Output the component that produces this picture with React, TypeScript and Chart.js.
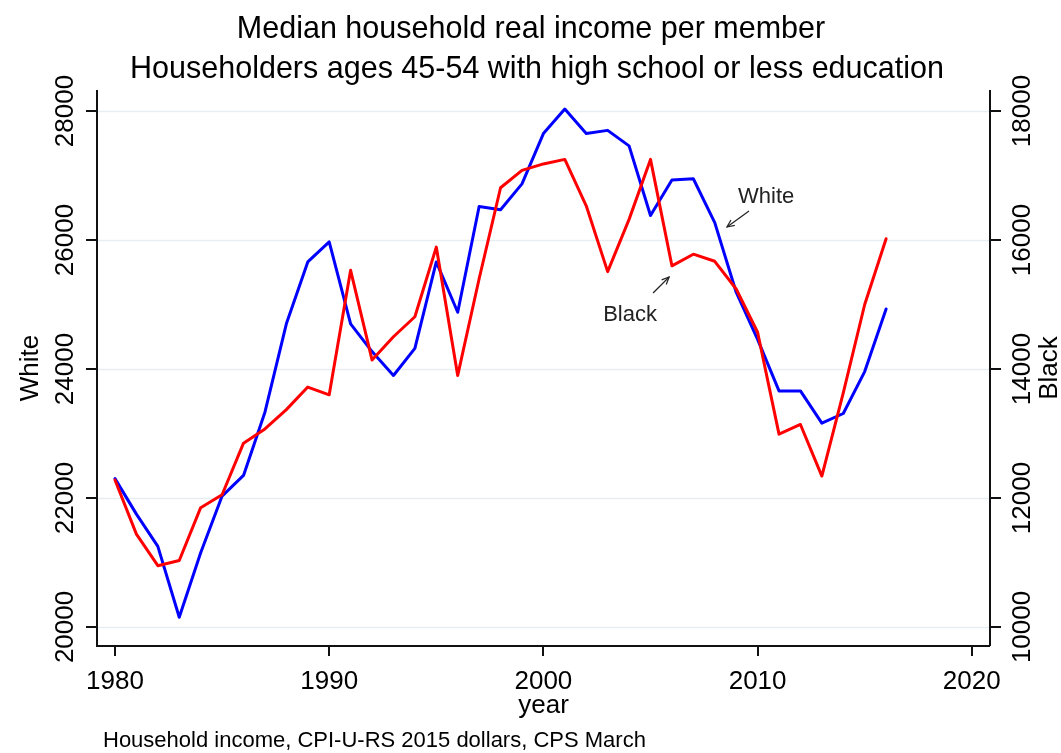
import React, { useEffect, useRef } from "react";
import { Chart, registerables } from "chart.js";

Chart.register(...registerables);

// ---------- data ----------
const years = [
  1980, 1981, 1982, 1983, 1984, 1985, 1986, 1987, 1988, 1989,
  1990, 1991, 1992, 1993, 1994, 1995, 1996, 1997, 1998, 1999,
  2000, 2001, 2002, 2003, 2004, 2005, 2006, 2007, 2008, 2009,
  2010, 2011, 2012, 2013, 2014, 2015, 2016,
];

const whiteIncome = [
  22300, 21750, 21250, 20150, 21150, 22030, 22350, 23330, 24700, 25660,
  25970, 24700, 24270, 23900, 24320, 25660, 24880, 26520, 26470, 26870,
  27650, 28030, 27650, 27700, 27460, 26380, 26930, 26950, 26270, 25190,
  24460, 23660, 23660, 23160, 23310, 23960, 24930,
];

const blackIncome = [
  12280, 11440, 10950, 11030, 11850, 12050, 12850, 13070, 13370, 13720,
  13600, 15530, 14140, 14500, 14810, 15890, 13900, 15400, 16810, 17080,
  17180, 17250, 16530, 15510, 16320, 17250, 15600, 15780, 15670, 15240,
  14570, 12990, 13140, 12340, 13630, 15000, 16020,
];

const xTicks = [1980, 1990, 2000, 2010, 2020];
const whiteTicks = [20000, 22000, 24000, 26000, 28000];
const blackTicks = [10000, 12000, 14000, 16000, 18000];

const titleLines = [
  "Median household real income per member",
  "Householders ages 45-54 with high school or less education",
];
const xTitle = "year";
const leftTitle = "White";
const rightTitle = "Black";
const footnote = "Household income, CPI-U-RS 2015 dollars, CPS March";

// annotation anchors in data coordinates: [year, value]
const whiteNote = { text: "White", at: [2009.09, 26574], from: [2009.6, 26450], to: [2008.57, 26202] };
const blackNote = { text: "Black", at: [2002.79, 14744], from: [2005.12, 15178], to: [2005.87, 15426] };

const FONT = '"Liberation Sans", Arial, Helvetica, sans-serif';

function drawArrow(ctx: CanvasRenderingContext2D, x1: number, y1: number, x2: number, y2: number) {
  ctx.save();
  ctx.strokeStyle = "#222";
  ctx.lineWidth = 1.2;
  ctx.beginPath();
  ctx.moveTo(x1, y1);
  ctx.lineTo(x2, y2);
  ctx.stroke();
  const ang = Math.atan2(y2 - y1, x2 - x1);
  const len = 8;
  const spread = 0.42;
  ctx.beginPath();
  ctx.moveTo(x2 - len * Math.cos(ang - spread), y2 - len * Math.sin(ang - spread));
  ctx.lineTo(x2, y2);
  ctx.lineTo(x2 - len * Math.cos(ang + spread), y2 - len * Math.sin(ang + spread));
  ctx.stroke();
  ctx.restore();
}

const decorPlugin = {
  id: "decor",
  beforeDatasetsDraw(chart: any) {
    const { ctx, chartArea } = chart;
    const y = chart.scales.y;
    ctx.save();
    ctx.strokeStyle = "#e6eef1";
    ctx.lineWidth = 1.5;
    for (const v of whiteTicks) {
      const py = Math.round(y.getPixelForValue(v)) + 0.5;
      ctx.beginPath();
      ctx.moveTo(chartArea.left, py);
      ctx.lineTo(chartArea.right, py);
      ctx.stroke();
    }
    ctx.restore();
  },
  afterDatasetsDraw(chart: any) {
    const { ctx, chartArea } = chart;
    const x = chart.scales.x;
    const y = chart.scales.y;
    const y1 = chart.scales.y1;
    const L = chartArea.left;
    const R = chartArea.right;
    const T = chartArea.top;
    const B = chartArea.bottom;

    ctx.save();
    ctx.strokeStyle = "#111";
    ctx.lineWidth = 2;
    // axis lines
    ctx.beginPath();
    ctx.moveTo(L, T);
    ctx.lineTo(L, B);
    ctx.lineTo(R, B);
    ctx.moveTo(R, T);
    ctx.lineTo(R, B);
    ctx.stroke();

    // tick marks
    ctx.beginPath();
    for (const v of whiteTicks) {
      const py = Math.round(y.getPixelForValue(v));
      ctx.moveTo(L - 11, py);
      ctx.lineTo(L, py);
    }
    for (const v of blackTicks) {
      const py = Math.round(y1.getPixelForValue(v));
      ctx.moveTo(R, py);
      ctx.lineTo(R + 11, py);
    }
    for (const v of xTicks) {
      const px = Math.round(x.getPixelForValue(v));
      ctx.moveTo(px, B);
      ctx.lineTo(px, B + 10);
    }
    ctx.stroke();

    ctx.fillStyle = "#000";
    ctx.font = `26px ${FONT}`;
    ctx.textBaseline = "alphabetic";
    ctx.textAlign = "center";

    // x tick labels
    for (const v of xTicks) {
      ctx.fillText(String(v), x.getPixelForValue(v), 689);
    }
    // x title
    ctx.fillText(xTitle, (L + R) / 2, 713);

    // y tick labels (rotated)
    const rot = (text: string, px: number, py: number) => {
      ctx.save();
      ctx.translate(px, py);
      ctx.rotate(-Math.PI / 2);
      ctx.fillText(text, 0, 0);
      ctx.restore();
    };
    for (const v of whiteTicks) rot(String(v), 73, y.getPixelForValue(v));
    for (const v of blackTicks) rot(String(v), 1030, y1.getPixelForValue(v));
    rot(leftTitle, 38, (T + B) / 2);
    rot(rightTitle, 1057, (T + B) / 2);

    // titles
    ctx.font = `30.5px ${FONT}`;
    ctx.fillText(titleLines[0], 531, 38);
    ctx.fillText(titleLines[1], 537, 78);

    // footnote
    ctx.font = `22px ${FONT}`;
    ctx.textAlign = "left";
    ctx.fillText(footnote, 103, 747);

    // annotations
    ctx.fillStyle = "#222";
    ctx.fillText(whiteNote.text, x.getPixelForValue(whiteNote.at[0]), y.getPixelForValue(whiteNote.at[1]));
    ctx.fillText(blackNote.text, x.getPixelForValue(blackNote.at[0]), y1.getPixelForValue(blackNote.at[1]));
    drawArrow(
      ctx,
      x.getPixelForValue(whiteNote.from[0]), y.getPixelForValue(whiteNote.from[1]),
      x.getPixelForValue(whiteNote.to[0]), y.getPixelForValue(whiteNote.to[1])
    );
    drawArrow(
      ctx,
      x.getPixelForValue(blackNote.from[0]), y1.getPixelForValue(blackNote.from[1]),
      x.getPixelForValue(blackNote.to[0]), y1.getPixelForValue(blackNote.to[1])
    );
    ctx.restore();
  },
};

export default function App() {
  const canvasRef = useRef<HTMLCanvasElement | null>(null);

  useEffect(() => {
    if (!canvasRef.current) return;
    const hidden = { display: false };
    const chart = new Chart(canvasRef.current, {
      type: "line",
      data: {
        datasets: [
          {
            label: "Black",
            data: years.map((yr, i) => ({ x: yr, y: blackIncome[i] })),
            borderColor: "#ff0000",
            backgroundColor: "#ff0000",
            borderWidth: 3,
            pointRadius: 0,
            tension: 0,
            borderJoinStyle: "round",
            borderCapStyle: "round",
            yAxisID: "y1",
          },
          {
            label: "White",
            data: years.map((yr, i) => ({ x: yr, y: whiteIncome[i] })),
            borderColor: "#0000ff",
            backgroundColor: "#0000ff",
            borderWidth: 3,
            pointRadius: 0,
            tension: 0,
            borderJoinStyle: "round",
            borderCapStyle: "round",
            yAxisID: "y",
          },
        ],
      },
      options: {
        animation: false,
        responsive: true,
        maintainAspectRatio: false,
        layout: { padding: { top: 90, left: 0, right: 0, bottom: 0 } },
        plugins: { legend: hidden, tooltip: { enabled: false }, title: hidden },
        scales: {
          x: {
            type: "linear",
            min: 1979.16,
            max: 2020.85,
            ticks: { display: false },
            grid: { display: false },
            border: { display: false },
            afterBuildTicks: (s: any) => {
              s.ticks = xTicks.map((v) => ({ value: v }));
            },
            afterFit: (s: any) => {
              s.height = 107;
            },
          },
          y: {
            type: "linear",
            position: "left",
            min: 19705,
            max: 28326,
            ticks: { display: false },
            grid: { display: false },
            border: { display: false },
            afterBuildTicks: (s: any) => {
              s.ticks = whiteTicks.map((v) => ({ value: v }));
            },
            afterFit: (s: any) => {
              s.width = 97;
            },
          },
          y1: {
            type: "linear",
            position: "right",
            min: 9705,
            max: 18326,
            ticks: { display: false },
            grid: { display: false },
            border: { display: false },
            afterBuildTicks: (s: any) => {
              s.ticks = blackTicks.map((v) => ({ value: v }));
            },
            afterFit: (s: any) => {
              s.width = 71;
            },
          },
        },
      } as any,
      plugins: [decorPlugin],
    });
    return () => chart.destroy();
  }, []);

  return (
    <div style={{ position: "absolute", left: 0, top: 0, width: 1061, height: 753, background: "#fff" }}>
      <canvas ref={canvasRef} />
    </div>
  );
}
